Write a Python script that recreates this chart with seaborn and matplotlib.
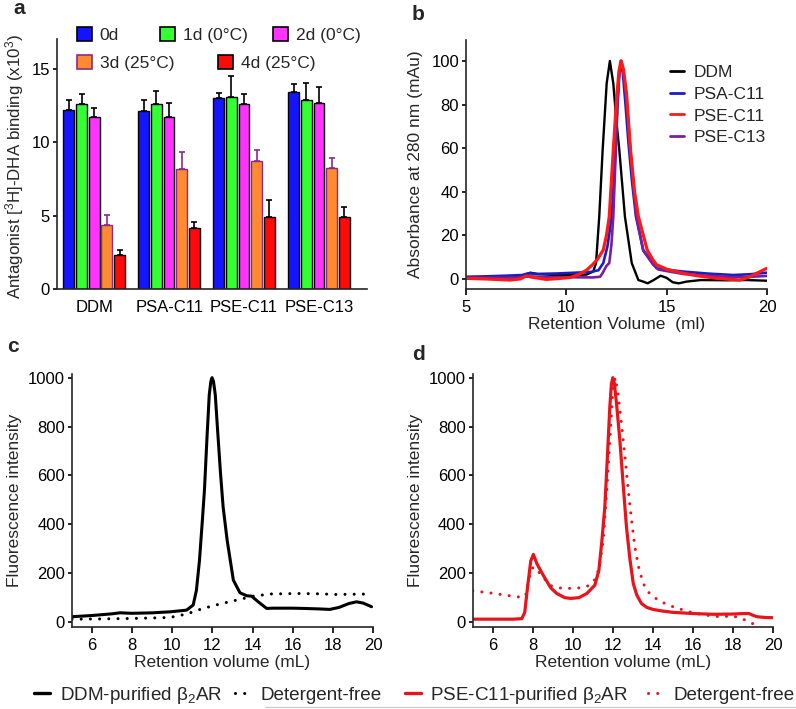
import pandas as pd
import matplotlib.pyplot as plt
import seaborn as sns
from matplotlib.patches import Patch
from matplotlib.lines import Line2D

# ---- panel a: antagonist binding ----
groups = ['DDM', 'PSA-C11', 'PSE-C11', 'PSE-C13']
days = ['0d', '1d (0°C)', '2d (0°C)', '3d (25°C)', '4d (25°C)']
bind_0d = [12.2, 12.15, 13.0, 13.45]
bind_1d = [12.6, 12.6, 13.05, 12.9]
bind_2d = [11.75, 11.75, 12.6, 12.7]
bind_3d = [4.4, 8.15, 8.7, 8.25]
bind_4d = [2.3, 4.2, 4.95, 4.9]
err_0d = [0.7, 0.75, 0.35, 0.5]
err_1d = [0.65, 0.9, 1.45, 1.1]
err_2d = [0.6, 0.9, 0.65, 1.05]
err_3d = [0.65, 1.2, 0.75, 0.65]
err_4d = [0.35, 0.4, 1.15, 0.7]

# ---- panel b: absorbance at 280 nm ----
ddm_x = [5, 6, 7, 7.8, 8.2, 8.6, 9.5, 10.5, 11.0, 11.34, 11.48, 11.64, 11.81, 12.01, 12.17,
         12.34, 12.5, 12.64, 12.92, 13.26, 13.59, 13.83, 14.05, 14.35, 14.7, 15.0, 15.3, 15.6,
         16.0, 16.7, 18, 19, 20]
ddm_y = [0.3, 0.3, 0.5, 1, 2.9, 2.2, 1.8, 1.8, 2.0, 3.4, 7.3, 28.6, 59.2, 89.7, 100,
         89.7, 72, 59.2, 28.6, 7.3, -0.5, -1.2, -2.0, -0.5, 1.5, 0.5, -1.5, -2.0,
         -1.2, -0.5, -0.6, -0.5, -0.8]
psa_x = [5, 6, 7, 7.8, 8.1, 8.5, 9.5, 10.5, 11.2, 11.6, 11.84, 12.05, 12.26, 12.4, 12.52,
         12.62, 12.72, 12.82, 12.95, 13.1, 13.27, 13.47, 13.83, 14.33, 14.5, 15, 15.83, 17,
         18.32, 19.2, 20]
psa_y = [1.0, 1.2, 1.5, 1.8, 2.6, 2.3, 2.5, 2.9, 3.2, 4.0, 7.3, 15, 28.6, 50, 75,
         92, 100, 94, 80, 62, 45, 28.6, 13.3, 7.3, 4.9, 4.2, 3.4, 2.5,
         1.8, 2.2, 2.9]
pse11_x = [5, 6, 7.19, 7.7, 8.0, 8.3, 9.0, 9.6, 10.2, 10.6, 11.0, 11.3, 11.55, 11.84, 12.0,
           12.14, 12.34, 12.5, 12.62, 12.72, 12.85, 13.0, 13.2, 13.4, 13.59, 14.03, 14.3, 14.5,
           15.0, 15.83, 16.5, 17.49, 18.65, 19.1, 19.48, 20]
pse11_y = [0.3, 0.0, -0.5, 0.0, 1.4, 0.8, -0.2, 0.2, 0.7, 2.0, 4.0, 6.5, 9, 13.3, 20,
           28.6, 59, 82, 95, 100, 96, 85, 59, 40, 28.6, 13.3, 9, 6.5,
           4.5, 2.6, 1.5, 0.3, -0.5, 0.8, 2.6, 4.9]
pse13_x = [5, 6, 7.5, 8.1, 9, 10, 11.3, 11.68, 11.8, 12.0, 12.14, 12.25, 12.34, 12.45, 12.55,
           12.65, 12.75, 12.85, 13.0, 13.2, 13.47, 13.83, 14.33, 14.6, 15.2, 15.83, 17, 18.32,
           19.2, 20]
pse13_y = [0.5, 0.5, 0.6, 1.2, 0.8, 0.8, 0.7, 1.0, 2.6, 6, 7.3, 16, 28.6, 55, 80,
           95, 100, 95, 82, 58, 30, 13, 6.5, 4.3, 3.3, 2.3, 1.5, 0.8,
           1.0, 1.4]

# ---- panel c: DDM-purified b2AR fluorescence ----
c_solid_x = [5, 6, 7, 7.39, 8, 9, 9.88, 10.71, 11.04, 11.2, 11.35, 11.5, 11.6, 11.73, 11.84,
             11.92, 11.98, 12.05, 12.14, 12.26, 12.4, 12.53, 12.73, 13.04, 13.37, 13.7, 13.95,
             14.28, 14.7, 15, 16, 16.52, 17.3, 17.85, 18.3, 18.8, 19.18, 19.5, 19.93]
c_solid_y = [22, 27, 34, 38, 36, 38, 42, 49, 70, 130, 250, 420, 540, 760, 930,
             985, 1000, 985, 930, 780, 610, 472, 336, 172, 120, 108, 106,
             83, 56, 57, 57, 56, 54, 52, 60, 76, 83, 78, 63]
c_dot_x = [5.0, 5.23, 6.5, 8.0, 9.0, 9.88, 10.71, 11.53, 12.37, 13.2, 14.03, 14.87, 16.2,
           17.2, 18.19, 19.0, 19.93]
c_dot_y = [12, 12, 13, 15, 17, 19, 33, 56, 74, 90, 106, 115, 117,
           116, 113, 114, 115]

# ---- panel d: PSE-C11-purified b2AR fluorescence ----
d_solid_x = [5.0, 6, 7, 7.45, 7.6, 7.75, 7.9, 8.03, 8.2, 8.5, 8.9, 9.2, 9.6, 9.9, 10.3,
             10.7, 11.1, 11.3, 11.45, 11.6, 11.73, 11.85, 11.93, 12.0, 12.08, 12.2, 12.35,
             12.5, 12.68, 12.85, 13.02, 13.2, 13.43, 13.7, 14.0, 14.5, 15, 16, 17, 18, 18.5,
             18.8, 19.0, 19.2, 19.6, 20]
d_solid_y = [12, 12, 12, 14, 40, 150, 250, 277, 240, 195, 140, 117, 100, 97, 100,
             117, 151, 210, 330, 472, 680, 881, 975, 1000, 975, 880, 745,
             580, 390, 260, 158, 110, 76, 60, 52, 45, 40, 35, 32, 33, 35,
             35, 28, 22, 19, 18]
d_dot_x = [5.0, 5.5, 6, 6.5, 7, 7.5, 7.65, 7.8, 7.95, 8.1, 8.4, 8.86, 9.3, 9.86, 10.3,
           10.69, 11.0, 11.19, 11.35, 11.52, 11.7, 11.85, 12.0, 12.12, 12.25, 12.43, 12.6,
           12.77, 12.93, 13.1, 13.3, 13.52, 13.75, 14.0, 14.5, 15.0, 15.5, 16.0, 16.7, 17.34,
           18.0, 18.4, 18.84, 19.1, 19.42, 19.5]
d_dot_y = [128, 123, 118, 112, 106, 101, 110, 170, 220, 225, 195, 150, 140, 138, 140,
           145, 162, 186, 240, 336, 540, 745, 950, 1000, 940, 813, 680,
           540, 420, 308, 220, 158, 125, 104, 80, 63, 50, 38, 28, 22,
           25, 15, 1, -12, -26, -30]

sns.set_style('ticks')
plt.rcParams['font.family'] = ['Liberation Sans', 'DejaVu Sans']
plt.rcParams['mathtext.fontset'] = 'custom'
plt.rcParams['mathtext.rm'] = 'Liberation Sans'
plt.rcParams['mathtext.default'] = 'regular'
plt.rcParams['axes.linewidth'] = 1.2
plt.rcParams['xtick.major.width'] = 1.2
plt.rcParams['ytick.major.width'] = 1.2

TICK = 12
LAB = 12.5

fig = plt.figure(figsize=(7.96, 7.09), dpi=100)
W, H = 796, 709


def px_axes(l, t, r, b):
    return fig.add_axes([l / W, 1 - b / H, (r - l) / W, (b - t) / H])


def style_axes(ax):
    sns.despine(ax=ax)
    ax.tick_params(labelsize=TICK, length=3, pad=2, direction='out', colors='black')


# ---------- panel a ----------
ax_a = px_axes(56.7, 39.3, 367, 289.3)
bind_cols = [bind_0d, bind_1d, bind_2d, bind_3d, bind_4d]
err_cols = [err_0d, err_1d, err_2d, err_3d, err_4d]
df_a = pd.DataFrame({
    'group': groups * len(days),
    'day': [d for d in days for _ in groups],
    'binding': [v for col in bind_cols for v in col],
})
bar_colors = ['#1414ff', '#33ff33', '#ff33ff', '#ff8a30', '#ff0a0a']
edge_colors = ['black', 'black', 'black', '#8a2a8a', 'black']
sns.barplot(data=df_a, x='group', y='binding', hue='day', hue_order=days,
            palette=bar_colors, saturation=1, width=0.845, gap=0.155, errorbar=None,
            edgecolor='black', linewidth=1, legend=False, ax=ax_a)
bar_conts = list(ax_a.containers)
for i, cont in enumerate(bar_conts):
    xs, ys = [], []
    for bar in cont.patches:
        bar.set_edgecolor(edge_colors[i])
        xs.append(bar.get_x() + bar.get_width() / 2)
        ys.append(bar.get_height())
    ax_a.errorbar(xs, ys, yerr=[[0] * len(ys), err_cols[i]], fmt='none',
                  ecolor=edge_colors[i], elinewidth=1.2, capsize=2.5, capthick=1.2)
ax_a.set_xlim(-0.5, 3.64)
ax_a.set_ylim(0, 17)
ax_a.set_yticks([0, 5, 10, 15])
style_axes(ax_a)
ax_a.tick_params(axis='x', length=0, pad=8)
ax_a.set_xlabel('')
ax_a.set_ylabel('Antagonist [$^3$H]-DHA binding (x10$^3$)', fontsize=12.2)
ax_a.yaxis.set_label_coords(-0.1, 0.49)

legend_pos = [(77, 35), (160, 35), (273, 35), (77, 63), (218, 63)]
for i, (lx, ly) in enumerate(legend_pos):
    h = Patch(facecolor=bar_colors[i], edgecolor=edge_colors[i], linewidth=1.2)
    fig.legend(handles=[h], labels=[days[i]], loc='center left',
               bbox_to_anchor=(lx / W, 1 - ly / H), frameon=False, fontsize=LAB,
               handlelength=0.85, handleheight=0.85, handletextpad=0.45,
               borderpad=0, borderaxespad=0)

# ---------- panel b ----------
ax_b = px_axes(466, 40, 767, 289)
traces_b = [('DDM', ddm_x, ddm_y, 'black', 1.7),
            ('PSA-C11', psa_x, psa_y, '#1c1cc4', 1.9),
            ('PSE-C13', pse13_x, pse13_y, '#7a1f9c', 1.9),
            ('PSE-C11', pse11_x, pse11_y, '#ff1a1a', 2.3)]
for name, xs, ys, col, lw in traces_b:
    sns.lineplot(x=xs, y=ys, color=col, linewidth=lw, sort=False, estimator=None, ax=ax_b)
ax_b.set_xlim(5, 20)
ax_b.set_ylim(-4.6, 109.6)
ax_b.set_xticks([5, 10, 15, 20])
ax_b.set_yticks([0, 20, 40, 60, 80, 100])
style_axes(ax_b)
ax_b.tick_params(axis='x', length=4, pad=4)
ax_b.set_xlabel('Retention Volume  (ml)', fontsize=LAB, labelpad=1)
ax_b.set_ylabel('Absorbance at 280 nm (mAu)', fontsize=LAB, labelpad=6)
leg_order = ['DDM', 'PSA-C11', 'PSE-C11', 'PSE-C13']
col_map = {t[0]: t[3] for t in traces_b}
ax_b.legend(handles=[Line2D([], [], color=col_map[n], lw=2) for n in leg_order],
            labels=leg_order, loc='upper left', bbox_to_anchor=(0.678, 0.9),
            frameon=False, fontsize=LAB, handlelength=0.8, handletextpad=0.55,
            labelspacing=0.38, borderpad=0, borderaxespad=0)

# ---------- panels c and d ----------
dot_style = dict(linestyle=(0, (0.01, 3.0)), dash_capstyle='round')

ax_c = px_axes(72, 374, 373, 627)
sns.lineplot(x=c_dot_x, y=c_dot_y, color='black', linewidth=2.2, sort=False,
             estimator=None, ax=ax_c, **dot_style)
sns.lineplot(x=c_solid_x, y=c_solid_y, color='black', linewidth=2.2, sort=False,
             estimator=None, ax=ax_c)

ax_d = px_axes(472.7, 374, 773, 627)
sns.lineplot(x=d_dot_x, y=d_dot_y, color='#e8141c', linewidth=2.2, sort=False,
             estimator=None, ax=ax_d, **dot_style)
sns.lineplot(x=d_solid_x, y=d_solid_y, color='#e8141c', linewidth=2.3, sort=False,
             estimator=None, ax=ax_d)

for ax in (ax_c, ax_d):
    ax.set_xlim(5, 20)
    ax.set_ylim(-20, 1015)
    ax.set_xticks([6, 8, 10, 12, 14, 16, 18, 20])
    ax.set_yticks([0, 200, 400, 600, 800, 1000])
    style_axes(ax)
    ax.tick_params(axis='x', length=4, pad=4)
    ax.set_xlabel('Retention volume (mL)', fontsize=LAB, labelpad=1)
    ax.set_ylabel('Fluorescence intensity', fontsize=LAB, labelpad=4)

# ---------- bottom legends ----------
LEG = 13.6
fig.legend(handles=[Line2D([], [], color='black', lw=2.4),
                    Line2D([], [], color='black', lw=2.2, **dot_style)],
           labels=['DDM-purified β$_2$AR', 'Detergent-free'],
           loc='center left', bbox_to_anchor=(34 / W, 1 - 695 / H), ncol=2,
           frameon=False, fontsize=LEG, handlelength=0.85, handletextpad=0.5,
           columnspacing=0.7, borderpad=0, borderaxespad=0)
fig.legend(handles=[Line2D([], [], color='#e8141c', lw=2.4),
                    Line2D([], [], color='#e8141c', lw=2.2, **dot_style)],
           labels=['PSE-C11-purified β$_2$AR', 'Detergent-free'],
           loc='center left', bbox_to_anchor=(405 / W, 1 - 695 / H), ncol=2,
           frameon=False, fontsize=LEG, handlelength=0.85, handletextpad=0.5,
           columnspacing=1.0, borderpad=0, borderaxespad=0)
fig.add_artist(Line2D([265 / W, 1.0], [1 - 707 / H] * 2, color='#c8c8c8', lw=0.8))

# ---------- panel letters ----------
for letter, lx, ly in [('a', 13, 14), ('b', 412, 20), ('c', 7, 352), ('d', 412, 360)]:
    fig.text(lx / W, 1 - ly / H, letter, fontsize=15, fontweight='bold',
             ha='left', va='baseline')

fig.savefig('out.png', dpi=100)
